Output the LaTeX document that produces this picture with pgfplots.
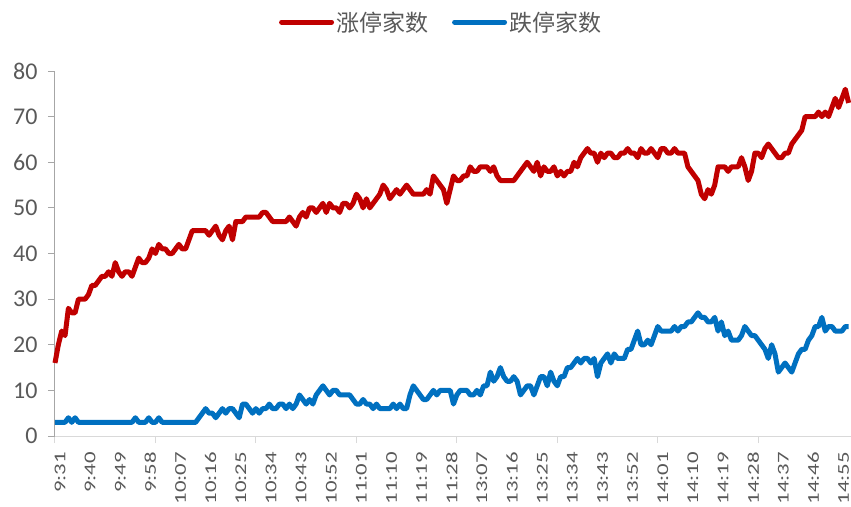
\documentclass[border=0pt]{standalone}
\usepackage{fontspec}
\usepackage{graphicx}
\setmainfont{Carlito}
\newfontfamily\cjk{Noto Sans CJK SC}
\usepackage{pgfplots}
\pgfplotsset{compat=1.18}
\usepackage{pgfplotstable}
\newcommand\tl[1]{\scalebox{1.38}[1]{#1}}
\definecolor{upred}{HTML}{C00000}
\definecolor{downblue}{HTML}{0070C0}
\definecolor{txtgray}{HTML}{595959}
\definecolor{axgray}{HTML}{A6A6A6}
\definecolor{axgray2}{HTML}{D9D9D9}

\pgfplotstableread{
i v
0 16
1 20
2 23
3 22
4 28
5 27
6 27
7 30
8 30
9 30
10 31
11 33
12 33
13 34
14 35
15 35
16 36
17 35
18 38
19 36
20 35
21 36
22 36
23 35
24 37
25 39
26 38
27 38
28 39
29 41
30 40
31 42
32 41
33 41
34 40
35 40
36 41
37 42
38 41
39 41
40 43
41 45
42 45
43 45
44 45
45 45
46 44
47 45
48 46
49 44
50 43
51 45
52 46
53 43
54 47
55 47
56 47
57 48
58 48
59 48
60 48
61 48
62 49
63 49
64 48
65 47
66 47
67 47
68 47
69 47
70 48
71 47
72 46
73 48
74 49
75 48
76 50
77 50
78 49
79 50
80 51
81 49
82 51
83 50
84 50
85 49
86 51
87 51
88 50
89 51
90 53
91 52
92 50
93 52
94 50
95 51
96 52
97 53
98 55
99 54
100 52
101 53
102 54
103 53
104 54
105 55
106 54
107 53
108 53
109 53
110 53
111 54
112 53
113 57
114 56
115 55
116 54
117 51
118 54
119 57
120 56
121 56
122 57
123 57
124 59
125 58
126 58
127 59
128 59
129 59
130 58
131 59
132 57
133 56
134 56
135 56
136 56
137 56
138 57
139 58
140 59
141 60
142 59
143 58
144 60
145 57
146 59
147 58
148 58
149 59
150 57
151 58
152 57
153 58
154 58
155 60
156 59
157 61
158 62
159 63
160 62
161 62
162 60
163 62
164 61
165 62
166 62
167 61
168 61
169 62
170 62
171 63
172 62
173 62
174 61
175 63
176 62
177 62
178 63
179 62
180 61
181 63
182 63
183 62
184 62
185 63
186 62
187 62
188 62
189 59
190 58
191 57
192 56
193 53
194 52
195 54
196 53
197 55
198 59
199 59
200 59
201 58
202 59
203 59
204 59
205 61
206 59
207 56
208 58
209 62
210 62
211 61
212 63
213 64
214 63
215 62
216 61
217 61
218 62
219 62
220 64
221 65
222 66
223 67
224 70
225 70
226 70
227 70
228 71
229 70
230 71
231 70
232 72
233 74
234 72
235 74
236 76
237 73
}\redtab

\pgfplotstableread{
i v
0 3
3 3
4 4
5 3
6 4
7 3
23 3
24 4
25 3
27 3
28 4
29 3
30 3
31 4
32 3
42 3
43 4
44 5
45 6
46 5
47 5
48 4
49 5
50 6
51 5
52 6
53 6
54 5
55 4
56 7
57 7
58 6
59 5
60 6
61 5
62 6
63 6
64 7
65 6
66 6
67 7
68 7
69 6
70 7
71 6
72 7
73 9
74 8
75 7
76 8
77 7
78 9
79 10
80 11
81 10
82 9
83 10
84 10
85 9
86 9
87 9
88 9
89 8
90 7
91 7
92 8
93 7
94 7
95 6
96 7
97 6
98 6
99 6
100 6
101 7
102 6
103 7
104 6
105 6
106 9
107 11
108 10
109 9
110 8
111 8
112 9
113 10
114 9
115 10
116 10
117 10
118 10
119 7
120 9
121 10
122 10
123 10
124 9
125 9
126 10
127 9
128 11
129 11
130 14
131 12
132 13
133 15
134 13
135 12
136 12
137 13
138 12
139 9
140 10
141 11
142 11
143 9
144 11
145 13
146 13
147 11
148 14
149 12
150 11
151 13
152 13
153 15
154 15
155 16
156 17
157 16
158 17
159 17
160 16
161 17
162 13
163 16
164 17
165 18
166 16
167 18
168 17
169 17
170 17
171 19
172 19
173 21
174 23
175 20
176 20
177 21
178 20
179 22
180 24
181 23
182 23
183 23
184 23
185 24
186 23
187 24
188 24
189 25
190 25
191 26
192 27
193 26
194 26
195 25
196 25
197 26
198 23
199 25
200 22
201 23
202 21
203 21
204 21
205 22
206 24
207 23
208 22
209 22
210 21
211 20
212 19
213 17
214 20
215 18
216 14
217 15
218 16
219 15
220 14
221 16
222 18
223 19
224 19
225 21
226 22
227 24
228 24
229 26
230 23
231 24
232 24
233 23
234 23
235 23
236 24
237 24
}\bluetab

\begin{document}
\begin{tikzpicture}[x=1pt,y=1pt]
\path[use as bounding box] (0,0) rectangle (851,506);
\begin{axis}[
  at={(55pt,70pt)}, anchor=south west,
  width=796pt, height=365pt, scale only axis,
  xmin=0, xmax=237.7, ymin=0, ymax=80,
  axis lines*=left,
  x axis line style={draw=axgray2, line width=1pt},
  y axis line style={draw=axgray, line width=1pt},
  tick align=outside,
  ytick={0,10,...,80},
  ytick style={draw=axgray, line width=1pt},
  major tick length=7pt,
  xtick={0,30,...,210},
  xticklabels={},
  xtick style={draw=axgray2, line width=1pt},
  extra x ticks={0,9,...,234},
  extra x tick labels={\tl{9:31},\tl{9:40},\tl{9:49},\tl{9:58},\tl{10:07},\tl{10:16},\tl{10:25},\tl{10:34},\tl{10:43},\tl{10:52},\tl{11:01},\tl{11:10},\tl{11:19},\tl{11:28},\tl{13:07},\tl{13:16},\tl{13:25},\tl{13:34},\tl{13:43},\tl{13:52},\tl{14:01},\tl{14:10},\tl{14:19},\tl{14:28},\tl{14:37},\tl{14:46},\tl{14:55}},
  extra x tick style={major tick length=0pt},
  xticklabel style={xshift=5pt, yshift=-14pt, rotate=90, anchor=east, font=\fontsize{16.5}{16.5}\selectfont, text=txtgray, inner sep=2pt},
  yticklabel style={font=\fontsize{24}{24}\selectfont, text=txtgray, xshift=-7pt},
  /pgf/number format/assume math mode=true,
  clip=false,
  legend style={at={(0.485,1.134)}, anchor=center, draw=none, fill=none,
    legend columns=2, font=\cjk\fontsize{23}{23}\selectfont, text=txtgray,
    /tikz/every even column/.append style={column sep=22pt}},
  legend image code/.code={\draw[#1, line width=5pt, line cap=round] (2pt,0pt) -- (52pt,0pt);},
]
\addplot[upred, line width=5pt, line join=round, no marks] table[x=i, y=v] {\redtab};
\addlegendentry{涨停家数}
\addplot[downblue, line width=5pt, line join=round, no marks] table[x=i, y=v] {\bluetab};
\addlegendentry{跌停家数}
\end{axis}
\end{tikzpicture}
\end{document}
